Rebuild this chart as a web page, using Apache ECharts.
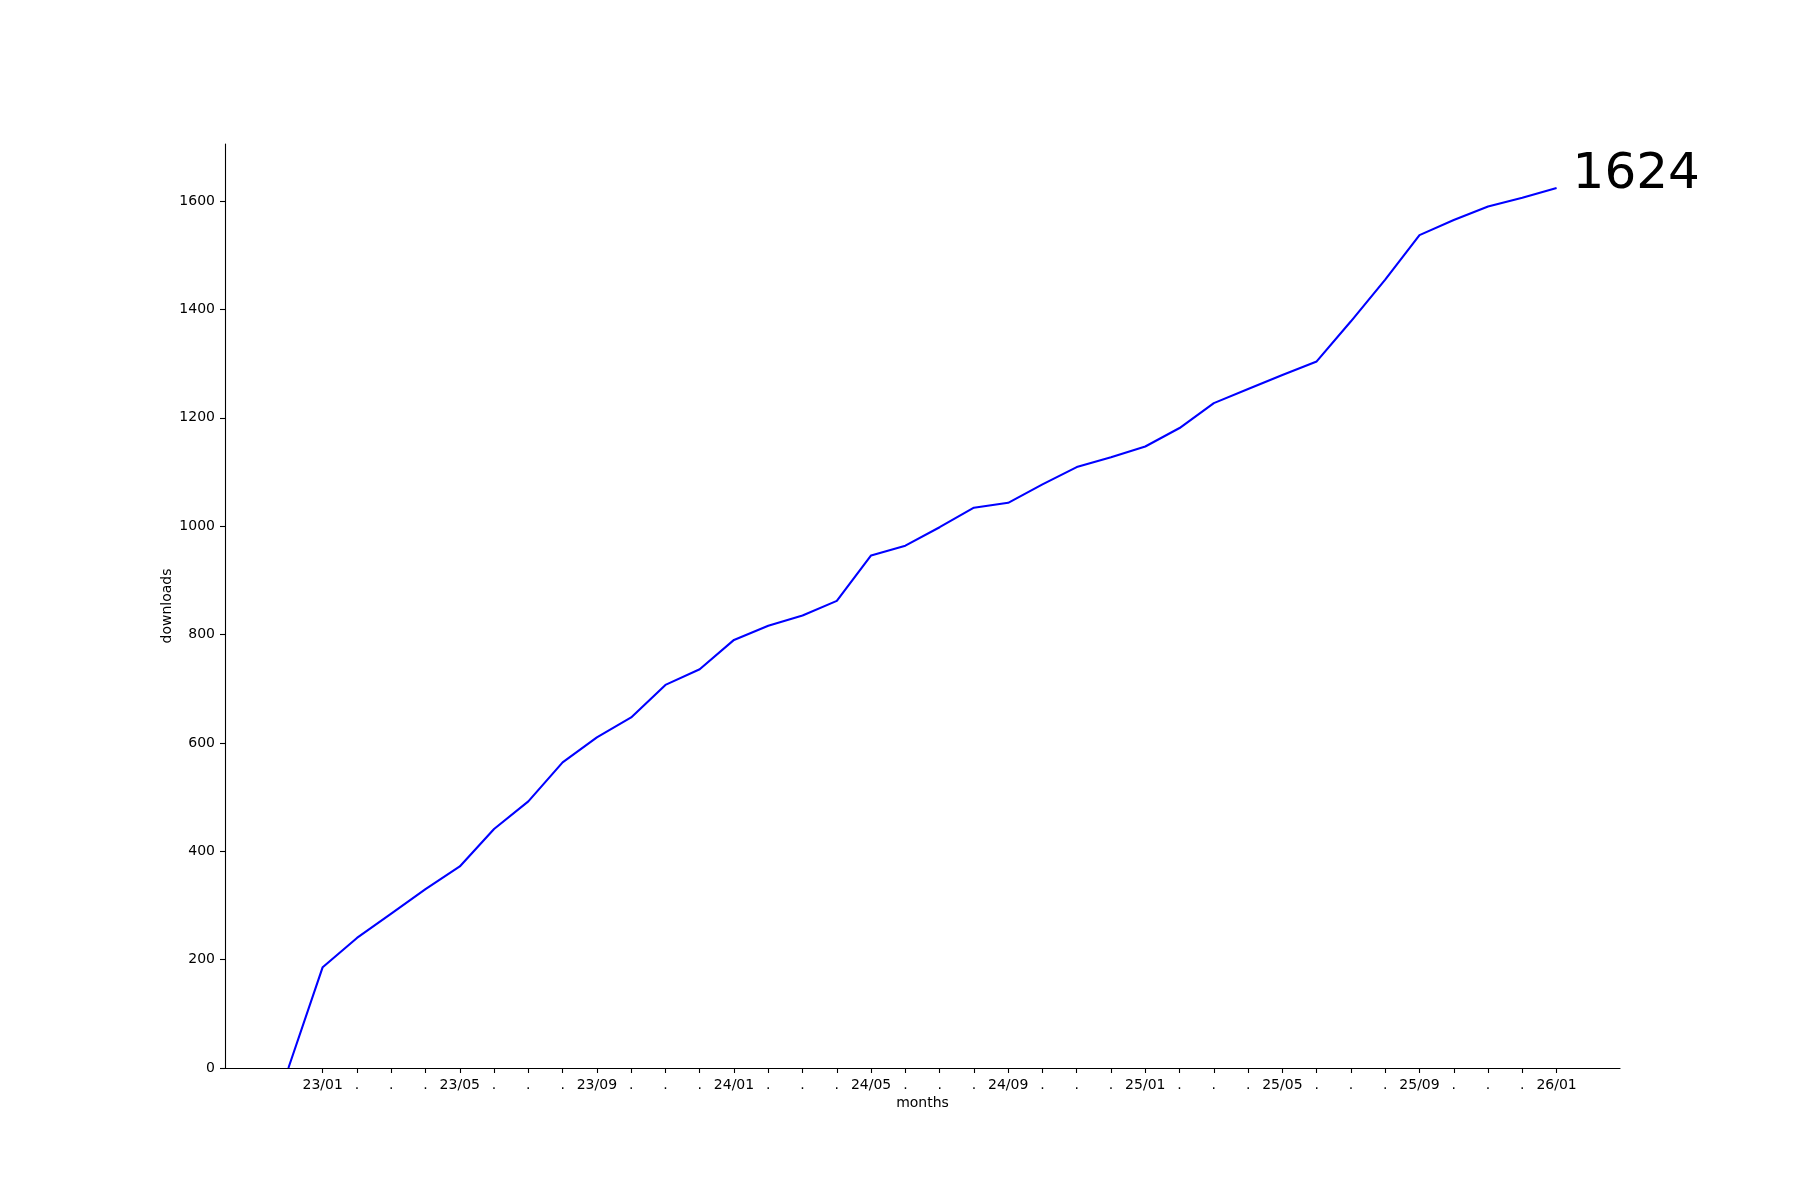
<!DOCTYPE html>
<html>
<head>
<meta charset="utf-8">
<script src="https://cdn.jsdelivr.net/npm/echarts@6/dist/echarts.min.js"></script>
<style>
  html, body { margin: 0; padding: 0; background: #ffffff; }
  #chart { width: 1800px; height: 1200px; }
</style>
</head>
<body>
<div id="chart"></div>
<script>
// ---- data ----
const months = [
  "22/12",
  "23/01","23/02","23/03","23/04","23/05","23/06","23/07","23/08","23/09","23/10","23/11","23/12",
  "24/01","24/02","24/03","24/04","24/05","24/06","24/07","24/08","24/09","24/10","24/11","24/12",
  "25/01","25/02","25/03","25/04","25/05","25/06","25/07","25/08","25/09","25/10","25/11","25/12",
  "26/01"
];
const downloads = [
  0,
  186, 240, 285, 330, 372, 441, 492, 564, 610, 647, 707, 736,
  790, 816, 835, 862, 946, 964, 998, 1034, 1043, 1077, 1109, 1127,
  1147, 1181, 1227, 1253, 1279, 1304, 1378, 1455, 1537, 1565, 1590, 1606,
  1624
];
// x tick positions (month indices) and their labels
const xTickIndex = [1,2,3,4,5,6,7,8,9,10,11,12,13,14,15,16,17,18,19,20,21,22,23,24,25,26,27,28,29,30,31,32,33,34,35,36,37];
const xTickLabels = [
  "23/01",".",".",".","23/05",".",".",".","23/09",".",".",".",
  "24/01",".",".",".","24/05",".",".",".","24/09",".",".",".",
  "25/01",".",".",".","25/05",".",".",".","25/09",".",".",".",
  "26/01"
];
const yTicks = [0, 200, 400, 600, 800, 1000, 1200, 1400, 1600];
const xName = "months";
const yName = "downloads";

// ---- chart ----
const FONT = "DejaVu Sans";
const lastIdx = downloads.length - 1;
const lastVal = downloads[lastIdx];
const xMargin = 0.05 * lastIdx;
const labelMap = {};
xTickIndex.forEach((v, i) => { labelMap[v] = xTickLabels[i]; });

const chart = echarts.init(document.getElementById('chart'), null, { renderer: 'canvas' });
chart.setOption({
  animation: false,
  backgroundColor: '#ffffff',
  grid: { left: 225, right: 180, top: 144, bottom: 132, containLabel: false, outerBoundsMode: 'none' },
  xAxis: {
    type: 'value',
    min: -xMargin,
    max: lastIdx + xMargin,
    name: xName,
    nameLocation: 'middle',
    nameGap: 28,
    nameMoveOverlap: false,
    nameTextStyle: { color: '#000', fontFamily: FONT, fontSize: 14 },
    splitLine: { show: false },
    axisLine: { show: true, onZero: false, lineStyle: { color: '#000', width: 1.1 } },
    axisTick: { show: true, length: 5, lineStyle: { color: '#000', width: 1.1 }, customValues: xTickIndex },
    axisLabel: {
      show: true, margin: 10, color: '#000', fontFamily: FONT, fontSize: 14,
      customValues: xTickIndex,
      formatter: (v) => labelMap[Math.round(v)] || ''
    }
  },
  yAxis: {
    type: 'value',
    min: 0,
    max: lastVal * 1.05,
    name: yName,
    nameLocation: 'middle',
    nameGap: 51,
    nameRotate: 90,
    nameMoveOverlap: false,
    nameTextStyle: { color: '#000', fontFamily: FONT, fontSize: 14 },
    splitLine: { show: false },
    axisLine: { show: true, onZero: false, lineStyle: { color: '#000', width: 1.1 } },
    axisTick: { show: true, length: 5, lineStyle: { color: '#000', width: 1.1 }, customValues: yTicks },
    axisLabel: {
      show: true, margin: 10, color: '#000', fontFamily: FONT, fontSize: 14,
      customValues: yTicks,
      formatter: (v) => String(v)
    }
  },
  series: [
    {
      type: 'line',
      data: downloads.map((v, i) => [i, v]),
      showSymbol: false,
      symbol: 'none',
      lineStyle: { color: '#0000ff', width: 2.1 },
      itemStyle: { color: '#0000ff' },
      z: 3
    },
    {
      type: 'scatter',
      data: [[lastIdx, lastVal]],
      symbolSize: 0,
      silent: true,
      itemStyle: { color: '#000000' },
      label: {
        show: true,
        position: [16, -13],
        align: 'left',
        verticalAlign: 'middle',
        color: '#000000',
        opacity: 1,
        fontFamily: FONT,
        fontSize: 50,
        formatter: (p) => String(p.value[1])
      },
      z: 4
    }
  ]
});
</script>
</body>
</html>
